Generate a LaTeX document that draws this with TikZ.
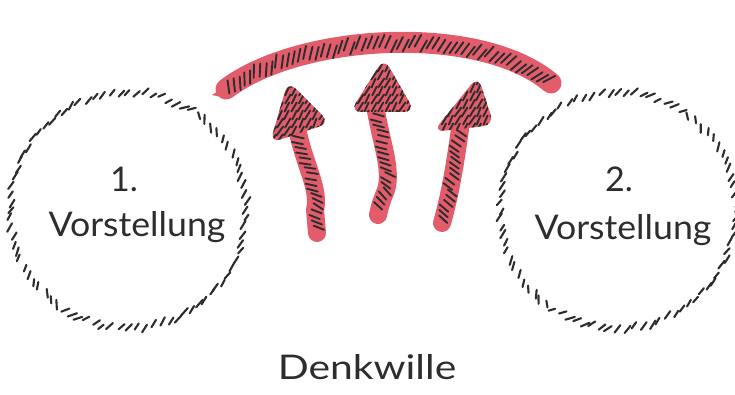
\documentclass[tikz,border=0pt]{standalone}
\usepackage{fontspec}
\setmainfont{Lato}
\usetikzlibrary{decorations.markings,calc}
\definecolor{marker}{RGB}{227,92,108}
\definecolor{ink}{RGB}{45,45,45}
\begin{document}
\begin{tikzpicture}[x=1pt,y=1pt,
  tick/.style={ink,line width=1.9pt,line cap=round},
  rtick/.style={ink,line width=2.1pt,line cap=round},
  lbl/.style={text=ink,font=\fontsize{34}{36}\selectfont,inner sep=0pt},
  ring/.style={circle,minimum size=236pt,inner sep=0pt},
  redfill/.style={fill=marker,rounded corners=11pt},
  shaft/.style={draw=marker,line width=18pt,line cap=round,line join=round},
  hatchline/.style={decorate,decoration={markings,
     mark=between positions 0.04 and 0.96 step 5.5pt with {
       \pgfmathsetmacro\jy{rand*3}
       \draw[tick] (-2.5,{\jy-5}) -- (2.5,{\jy+5});}}},
  hatchband/.style={decorate,decoration={markings,
     mark=between positions 0.02 and 0.98 step 6pt with {
       \pgfmathsetmacro\jy{rand*3}
       \draw[tick] (-3,{\jy-8}) -- (3,{\jy+4});}}},
]
\useasboundingbox (0,0) rectangle (735,395);
\pgfmathsetseed{7}
% circles
\node[ring] (L) at (128,185) {};
\node[ring] (R) at (618,185) {};
\foreach \cn in {L,R}{
  \foreach \i in {0,...,87}{
    \pgfmathsetmacro\ang{\i*(360/88)+rand}
    \pgfmathsetmacro\tng{mod(\ang+90,180)}
    \pgfmathsetmacro\df{55-\tng}
    \pgfmathsetmacro\df{\df<-90 ? \df+180 : \df}
    \pgfmathsetmacro\df{max(-45,min(45,\df))}
    \pgfmathsetmacro\tdir{\tng+\df+rand*8}
    \pgfmathsetmacro\tlen{4.2+rand*0.8}
    \pgfmathsetmacro\rr{118+rand*2}
    \begin{scope}[shift={(\cn.center)}]
      \draw[rtick] (\ang:\rr) ++(\tdir:\tlen) -- ++({\tdir+180}:{2*\tlen});
    \end{scope}
  }}
% red arc
\draw[marker,line width=21pt,line cap=round] (226,306) .. controls (300,362) and (480,372) .. (551,312);
\fill[marker] (212,300) -- (232,312) -- (226,297) -- cycle;
\path[hatchband] (222,305) .. controls (300,364) and (480,374) .. (556,310);
% arrows
\fill[redfill] (288,314) -- (330,272) -- (270,252) -- cycle;
\draw[shaft] (298,262) .. controls (305,230) and (320,205) .. (315,185) -- (317,162);
\fill[redfill] (384,337) -- (415,283) -- (350,283) -- cycle;
\draw[shaft] (376,284) .. controls (382,250) and (392,225) .. (386,205) .. controls (382,195) and (380,190) .. (378,180);
\fill[redfill] (478,319) -- (494,270) -- (433,263) -- cycle;
\draw[shaft] (460,266) .. controls (455,230) and (450,200) .. (442,172);
% hatching on arrows
\path[hatchline] (298,262) .. controls (305,230) and (320,205) .. (315,185) -- (317,162);
\path[hatchline] (376,284) .. controls (382,250) and (392,225) .. (386,205) .. controls (382,195) and (380,190) .. (378,180);
\path[hatchline] (460,266) .. controls (455,230) and (450,200) .. (442,172);
\begin{scope}
  \clip[rounded corners=11pt] (288,314) -- (330,272) -- (270,252) -- cycle;
  \foreach \hx in {266,273,...,334}{\foreach \hy in {248,256,...,318}{
    \draw[tick] ({\hx-2.5+rand},{\hy-4.5}) -- ({\hx+2.5+rand},{\hy+4.5});}}
\end{scope}
\begin{scope}
  \clip[rounded corners=11pt] (384,337) -- (415,283) -- (350,283) -- cycle;
  \foreach \hx in {346,353,...,420}{\foreach \hy in {280,288,...,340}{
    \draw[tick] ({\hx-2.5+rand},{\hy-4.5}) -- ({\hx+2.5+rand},{\hy+4.5});}}
\end{scope}
\begin{scope}
  \clip[rounded corners=11pt] (478,319) -- (494,270) -- (433,263) -- cycle;
  \foreach \hx in {430,437,...,498}{\foreach \hy in {259,267,...,323}{
    \draw[tick] ({\hx-2.5+rand},{\hy-4.5}) -- ({\hx+2.5+rand},{\hy+4.5});}}
\end{scope}
% labels
\node[lbl] (n1) at (124,216) {1.};
\node[lbl,anchor=base,xscale=1.05] (v1) at (137,158) {Vorstellung};
\node[lbl] (n2) at (619,216) {2.};
\node[lbl,anchor=base,xscale=1.05] (v2) at (623,155) {Vorstellung};
\node[lbl,anchor=base,xscale=1.2] (dw) at (367,15) {Denkwille};
\end{tikzpicture}
\end{document}
